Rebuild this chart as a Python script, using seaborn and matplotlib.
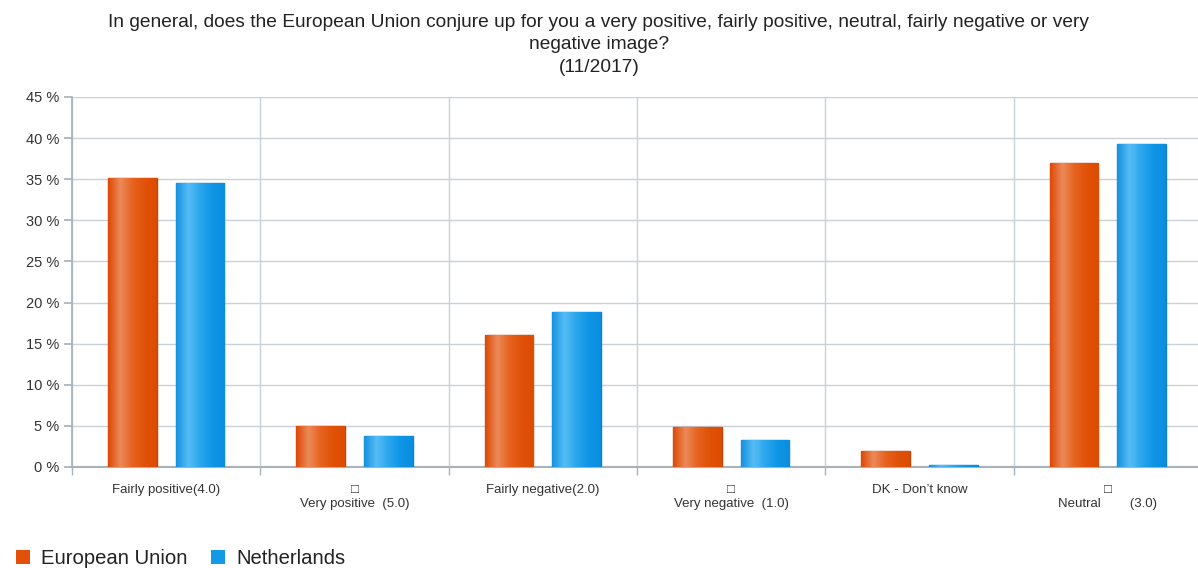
import numpy as np
import pandas as pd
import matplotlib
matplotlib.use("Agg")
import matplotlib.pyplot as plt
import matplotlib.colors as mcolors
from matplotlib.patches import Patch
import seaborn as sns

categories = ["Fairly positive(4.0)", "\u25a1\nVery positive  (5.0)", "Fairly negative(2.0)",
              "\u25a1\nVery negative  (1.0)", "DK - Don\u2019t know", "\u25a1\nNeutral        (3.0)"]
series = ["European Union", "Netherlands"]
eu_values = [35.2, 5.0, 16.0, 4.9, 1.9, 37.0]
nl_values = [34.6, 3.8, 18.9, 3.3, 0.25, 39.3]
y_ticks = [0, 5, 10, 15, 20, 25, 30, 35, 40, 45]
title = ("In general, does the European Union conjure up for you a very positive, fairly positive, neutral, fairly negative or very\n"
         "negative image?\n(11/2017)")

df = pd.DataFrame({
    "category": categories * 2,
    "series": [series[0]] * len(categories) + [series[1]] * len(categories),
    "value": eu_values + nl_values,
})

sns.set_theme(style="white")
plt.rcParams["font.family"] = ["Liberation Sans", "DejaVu Sans"]

colors = {"European Union": "#e2500c", "Netherlands": "#1399e6"}
edges = {"European Union": "#c24305", "Netherlands": "#0b7fcc"}
grads = {
    "European Union": ["#dd4a05", "#ec8a5a", "#e6631f", "#e05208", "#dc4c02"],
    "Netherlands": ["#1592e0", "#56bdf5", "#2aa6ee", "#0f95e6", "#0a8ddf"],
}

fig = plt.figure(figsize=(11.98, 5.68), dpi=100)
ax = fig.add_axes([72 / 1198, (568 - 467) / 568, (1202 - 72) / 1198, (467 - 97) / 568])

sns.barplot(data=df, x="category", y="value", hue="series", palette=colors,
            width=0.72, gap=0.28, ax=ax, legend=False, zorder=3)

grid_c = "#c9d1d9"
ax.set_ylim(0, 45)
ax.set_xlim(-0.5, len(categories) - 0.5)
ax.set_yticks(y_ticks)
ax.set_yticklabels([f"{t} %" for t in y_ticks], fontsize=10.5, color="#333333")
ax.yaxis.grid(True, color=grid_c, linewidth=1.0, zorder=0)
ax.set_xticks(range(len(categories)))
ax.set_xticklabels(categories, fontsize=9.5, color="#333333", va="top", linespacing=1.25)
ax.set_xticks(np.arange(len(categories) + 1) - 0.5, minor=True)
ax.xaxis.grid(True, which="minor", color=grid_c, linewidth=1.0, zorder=0)
ax.tick_params(axis="x", which="major", length=0, pad=12)
ax.tick_params(axis="x", which="minor", length=6, color="#a9b2ba", width=1, direction="out", bottom=True)
ax.tick_params(axis="y", length=6, color="#a9b2ba", left=True, pad=3)
ax.set_xlabel("")
ax.set_ylabel("")
for s in ["top", "right"]:
    ax.spines[s].set_visible(False)
ax.spines["left"].set_color("#a9b2ba")
ax.spines["bottom"].set_color("#a9b2ba")
ax.spines["bottom"].set_linewidth(1.5)

# gradient fill on bars
n_cat = len(categories)
for i, patch in enumerate(ax.patches[: 2 * n_cat]):
    s = series[i // n_cat]
    cmap = mcolors.LinearSegmentedColormap.from_list("g" + s, grads[s])
    x0, y0 = patch.get_x(), patch.get_y()
    w, h = patch.get_width(), patch.get_height()
    patch.set_edgecolor(edges[s])
    patch.set_linewidth(1.0)
    img = ax.imshow(np.linspace(0, 1, 64).reshape(1, -1), cmap=cmap, aspect="auto",
                    extent=(x0, x0 + w, y0, y0 + h), zorder=3.5, interpolation="bilinear")
    img.set_clip_path(patch)
ax.set_xlim(-0.5, len(categories) - 0.5)
ax.set_ylim(0, 45)

fig.suptitle(title, fontsize=13.8, color="#222222", y=0.976, linespacing=1.45)

handles = [Patch(facecolor=colors[s], edgecolor="none") for s in series]
fig.legend(handles, series, loc="lower left", bbox_to_anchor=(-0.002, -0.032), ncol=2, frameon=False,
           fontsize=14.6, handlelength=0.7, handleheight=0.7, handletextpad=0.55, columnspacing=1.15,
           labelcolor="#222222")

fig.savefig("out.png", dpi=100)
